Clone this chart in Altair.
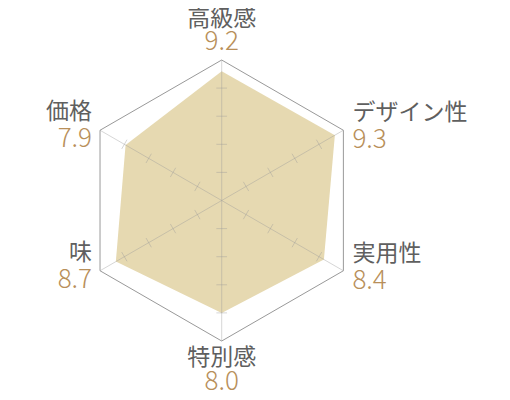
import altair as alt
import numpy as np
import pandas as pd

categories = ["高級感", "デザイン性", "実用性", "特別感", "味", "価格"]
scores = [9.2, 9.3, 8.4, 8.0, 8.7, 7.9]
max_score = 10
tick_levels = [2, 4, 6, 8]

n = len(categories)
angles = np.pi / 2 - np.arange(n) * 2 * np.pi / n  # clockwise from top

# plot geometry (data units: 1 unit = 1 score point)
W, H = 494, 384
PX = 14.05  # pixels per unit
cx_px, cy_px = 213.7, 192.5
xdom = [-cx_px / PX, (W - cx_px) / PX]
ydom = [-(H - cy_px) / PX, cy_px / PX]
xs = alt.Scale(domain=xdom, nice=False, zero=False)
ys = alt.Scale(domain=ydom, nice=False, zero=False)
X = lambda f: alt.X(f, type="quantitative", scale=xs, axis=None)
Y = lambda f: alt.Y(f, type="quantitative", scale=ys, axis=None)

closed = list(angles) + [angles[0]]
poly = pd.DataFrame({
    "x": [s * np.cos(a) for s, a in zip(scores + scores[:1], closed)],
    "y": [s * np.sin(a) for s, a in zip(scores + scores[:1], closed)],
    "o": list(range(n + 1)),
})
hexa = pd.DataFrame({
    "x": [max_score * np.cos(a) for a in closed],
    "y": [max_score * np.sin(a) for a in closed],
    "o": list(range(n + 1)),
})
spokes = pd.DataFrame({
    "x": [0.0] * n, "y": [0.0] * n,
    "x2": [max_score * np.cos(a) for a in angles],
    "y2": [max_score * np.sin(a) for a in angles],
})
half = 0.38
rows = []
for a in angles:
    for t in tick_levels:
        px, py = t * np.cos(a), t * np.sin(a)
        nx, ny = -np.sin(a), np.cos(a)
        rows.append({"x": px - half * nx, "y": py - half * ny,
                     "x2": px + half * nx, "y2": py + half * ny})
ticks = pd.DataFrame(rows)

lab = []
for c, s, a in zip(categories, scores, angles):
    vx, vy = max_score * np.cos(a), max_score * np.sin(a)
    ca = np.cos(a)
    if abs(ca) < 1e-6:
        al = "center"
        lx = vx
        if np.sin(a) > 0:
            ny_, vy_ = vy + 41 / PX, vy + 18 / PX
        else:
            ny_, vy_ = vy - 17 / PX, vy - 40.5 / PX
    elif ca > 0:
        al = "left"
        lx = vx + 9 / PX
        ny_, vy_ = vy + 17 / PX, vy - 10 / PX
    else:
        al = "right"
        lx = vx - 8 / PX
        ny_, vy_ = vy + 18 / PX, vy - 9 / PX
    lab.append({"name": c, "val": f"{s:.1f}", "lx": lx, "ny": ny_, "vy": vy_, "al": al})
labels = pd.DataFrame(lab)

FONT = "Noto Sans CJK JP"

fill = alt.Chart(poly).mark_line(fill="#e6d9b1", strokeWidth=0, interpolate="linear-closed").encode(
    x=X("x"), y=Y("y"), order="o:Q")
spoke_layer = alt.Chart(spokes).mark_rule(color="#999999", opacity=0.4, strokeWidth=1).encode(
    x=X("x"), y=Y("y"), x2="x2", y2="y2")
tick_layer = alt.Chart(ticks).mark_rule(color="#999999", opacity=0.4, strokeWidth=1).encode(
    x=X("x"), y=Y("y"), x2="x2", y2="y2")
hex_layer = alt.Chart(hexa).mark_line(color="#999999", strokeWidth=1).encode(
    x=X("x"), y=Y("y"), order="o:Q")

text_layers = []
for al in ["left", "center", "right"]:
    base = alt.Chart(labels).transform_filter(alt.datum.al == al)
    text_layers.append(base.mark_text(align=al, baseline="middle", font=FONT, fontSize=23,
                                      fontWeight=400, color="#5f5f5f").encode(
        x=X("lx"), y=Y("ny"), text="name:N"))
    text_layers.append(base.mark_text(align=al, baseline="middle", font=FONT, fontSize=26,
                                      fontWeight=300, color="#b88f5a").encode(
        x=X("lx"), y=Y("vy"), text="val:N"))

chart = alt.layer(fill, spoke_layer, tick_layer, hex_layer, *text_layers).properties(
    width=W, height=H, padding=0, autosize=alt.AutoSizeParams(type="none")
).configure_view(stroke=None)

chart.save("out.html", embed_options={"renderer": "svg", "actions": False})
